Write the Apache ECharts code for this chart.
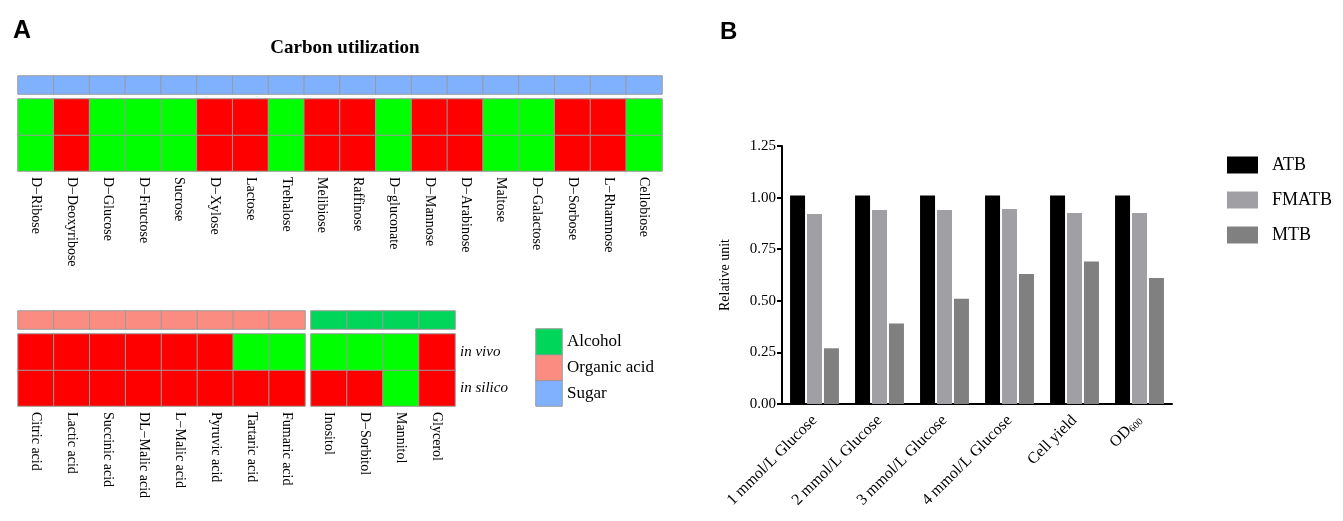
<!DOCTYPE html>
<html>
<head>
<meta charset="utf-8">
<title>Carbon utilization</title>
<script src="https://cdn.jsdelivr.net/npm/echarts@6/dist/echarts.min.js"></script>
<style>
    html, body { margin: 0; padding: 0; background: #fff; }
    #main { width: 1343px; height: 521px; }
</style>
</head>
<body>
<div id="main"></div>
<script>
// ******************* data *******************
// sugar (top heatmap)
var sugarNames = ['D\u2212Ribose', 'D\u2212Deoxyribose', 'D\u2212Glucose', 'D\u2212Fructose', 'Sucrose', 'D\u2212Xylose',
    'Lactose', 'Trehalose', 'Melibiose', 'Raffinose', 'D\u2212gluconate', 'D\u2212Mannose', 'D\u2212Arabinose',
    'Maltose', 'D\u2212Galactose', 'D\u2212Sorbose', 'L\u2212Rhamnose', 'Cellobiose'];
// 1 = used (green), 0 = not used (red)
var sugarVivo   = [1, 0, 1, 1, 1, 0, 0, 1, 0, 0, 1, 0, 0, 1, 1, 0, 0, 1];
var sugarSilico = [1, 0, 1, 1, 1, 0, 0, 1, 0, 0, 1, 0, 0, 1, 1, 0, 0, 1];

// organic acid
var acidNames = ['Citric acid', 'Lactic acid', 'Succinic acid', 'DL\u2212Malic acid', 'L\u2212Malic acid',
    'Pyruvic acid', 'Tartaric acid', 'Fumaric acid'];
var acidVivo   = [0, 0, 0, 0, 0, 0, 1, 1];
var acidSilico = [0, 0, 0, 0, 0, 0, 0, 0];

// alcohol
var alcoholNames = ['Inositol', 'D\u2212Sorbitol', 'Mannitol', 'Glycerol'];
var alcoholVivo   = [1, 1, 1, 0];
var alcoholSilico = [0, 0, 1, 0];

// heatmap rows (bottom to top) and class legend (bottom to top)
var rowNames = ['in silico', 'in vivo'];
var classNames = ['Sugar', 'Organic acid', 'Alcohol'];

// panel B
var glucoseCats = ['1 mmol/L Glucose', '2 mmol/L Glucose', '3 mmol/L Glucose', '4 mmol/L Glucose', 'Cell yield', 'OD600'];
var atbValues   = [1.01, 1.01, 1.01, 1.01, 1.01, 1.01];
var fmatbValues = [0.92, 0.94, 0.94, 0.945, 0.925, 0.925];
var mtbValues   = [0.27, 0.39, 0.51, 0.63, 0.69, 0.61];

// ******************* helpers *******************
var serif = 'Liberation Serif';
var cellBorder = { borderColor: '#9a9a9a', borderWidth: 1 };

// class code: 2 sugar, 3 organic acid, 4 alcohol
function stripData(names, code) {
    var out = [];
    for (var i = 0; i < names.length; i++) {
        out.push([i, 0, code]);
    }
    return out;
}
function heatData(vivo, silico) {
    var out = [];
    for (var i = 0; i < vivo.length; i++) {
        out.push([i, 0, silico[i]]);
        out.push([i, 1, vivo[i]]);
    }
    return out;
}
function hiddenCat(gridIndex, data) {
    return { type: 'category', gridIndex: gridIndex, data: data, show: false };
}
function labelXAxis(gridIndex, data) {
    return {
        type: 'category', gridIndex: gridIndex, data: data,
        axisLine: { show: false }, axisTick: { show: false },
        axisLabel: { rotate: -90, margin: 6, interval: 0, color: '#000', fontFamily: serif, fontSize: 14 }
    };
}

var chart = echarts.init(document.getElementById('main'));

var option = {
    backgroundColor: '#fff',
    animation: false,
    title: [
        { text: 'A', left: 8, top: 14, textStyle: { fontFamily: 'Liberation Sans', fontSize: 25, fontWeight: 'bold', color: '#000' } },
        { text: 'B', left: 715, top: 15, textStyle: { fontFamily: 'Liberation Sans', fontSize: 24, fontWeight: 'bold', color: '#000' } },
        { text: 'Carbon utilization', left: 340, top: 34, textAlign: 'center',
            textStyle: { fontFamily: serif, fontSize: 19, fontWeight: 'bold', color: '#000' } }
    ],
    visualMap: {
        type: 'piecewise', show: false, seriesIndex: [0, 1, 2, 3, 4, 5, 6],
        pieces: [
            { value: 0, color: '#ff0000' },
            { value: 1, color: '#00ff00' },
            { value: 2, color: '#80b1ff' },
            { value: 3, color: '#fb8c82' },
            { value: 4, color: '#00d65a' }
        ]
    },
    legend: {
        data: ['ATB', 'FMATB', 'MTB'],
        orient: 'vertical', left: 1227, top: 156, padding: 0,
        itemWidth: 31, itemHeight: 17, itemGap: 17, icon: 'rect',
        textStyle: { fontFamily: serif, fontSize: 18, color: '#000', padding: [0, 0, 0, 9] }
    },
    grid: [
        { left: 18, top: 76, width: 644, height: 18 },   // sugar strip
        { left: 18, top: 99, width: 644, height: 72 },   // sugar heat
        { left: 18, top: 311, width: 287, height: 18 },  // acid strip
        { left: 18, top: 334, width: 287, height: 72 },  // acid heat
        { left: 311, top: 311, width: 144, height: 18 }, // alcohol strip
        { left: 311, top: 334, width: 144, height: 72 }, // alcohol heat
        { left: 536, top: 329, width: 26, height: 77 },  // class legend
        { left: 782, top: 146, width: 390, height: 258 } // bar chart
    ],
    xAxis: [
        hiddenCat(0, sugarNames),
        labelXAxis(1, sugarNames),
        hiddenCat(2, acidNames),
        labelXAxis(3, acidNames),
        hiddenCat(4, alcoholNames),
        labelXAxis(5, alcoholNames),
        hiddenCat(6, ['class']),
        {
            type: 'category', gridIndex: 7, data: glucoseCats,
            axisLine: { lineStyle: { color: '#000', width: 2 } },
            axisTick: { alignWithLabel: true, length: 6, lineStyle: { color: '#000', width: 2 } },
            axisLabel: {
                rotate: 45, margin: 14, interval: 0, color: '#000', fontFamily: serif, fontSize: 16,
                formatter: function (v) { return v === 'OD600' ? 'OD{sub|600}' : v; },
                rich: { sub: { fontFamily: serif, fontSize: 10, verticalAlign: 'bottom', padding: [6, 0, 0, 0] } }
            }
        }
    ],
    yAxis: [
        hiddenCat(0, ['class']),
        hiddenCat(1, rowNames),
        hiddenCat(2, ['class']),
        hiddenCat(3, rowNames),
        hiddenCat(4, ['class']),
        {
            type: 'category', gridIndex: 5, data: rowNames, position: 'right',
            axisLine: { show: false }, axisTick: { show: false },
            axisLabel: { margin: 5, color: '#000', fontFamily: serif, fontSize: 15, fontStyle: 'italic' }
        },
        {
            type: 'category', gridIndex: 6, data: classNames, position: 'right',
            axisLine: { show: false }, axisTick: { show: false },
            axisLabel: { margin: 5, color: '#000', fontFamily: serif, fontSize: 17 }
        },
        {
            type: 'value', gridIndex: 7, min: 0, max: 1.25, interval: 0.25,
            name: 'Relative unit', nameLocation: 'middle', nameRotate: 90, nameGap: 50,
            nameTextStyle: { fontFamily: serif, fontSize: 14, color: '#000' },
            axisLine: { show: true, lineStyle: { color: '#000', width: 2 } },
            axisTick: { show: true, length: 5, lineStyle: { color: '#000', width: 2 } },
            splitLine: { show: false },
            axisLabel: {
                margin: 6, color: '#000', fontFamily: serif, fontSize: 15,
                formatter: function (v) { return v.toFixed(2); }
            }
        }
    ],
    series: [
        { type: 'heatmap', xAxisIndex: 0, yAxisIndex: 0, data: stripData(sugarNames, 2), itemStyle: cellBorder },
        { type: 'heatmap', xAxisIndex: 1, yAxisIndex: 1, data: heatData(sugarVivo, sugarSilico), itemStyle: cellBorder },
        { type: 'heatmap', xAxisIndex: 2, yAxisIndex: 2, data: stripData(acidNames, 3), itemStyle: cellBorder },
        { type: 'heatmap', xAxisIndex: 3, yAxisIndex: 3, data: heatData(acidVivo, acidSilico), itemStyle: cellBorder },
        { type: 'heatmap', xAxisIndex: 4, yAxisIndex: 4, data: stripData(alcoholNames, 4), itemStyle: cellBorder },
        { type: 'heatmap', xAxisIndex: 5, yAxisIndex: 5, data: heatData(alcoholVivo, alcoholSilico), itemStyle: cellBorder },
        // class legend, Sugar / Organic acid / Alcohol
        { type: 'heatmap', xAxisIndex: 6, yAxisIndex: 6, data: [[0, 0, 2], [0, 1, 3], [0, 2, 4]], itemStyle: cellBorder },
        // panel B
        { name: 'ATB', type: 'bar', xAxisIndex: 7, yAxisIndex: 7, data: atbValues, barWidth: 15, barGap: '13%',
            itemStyle: { color: '#000000' } },
        { name: 'FMATB', type: 'bar', xAxisIndex: 7, yAxisIndex: 7, data: fmatbValues, barWidth: 15, barGap: '13%',
            itemStyle: { color: '#a0a0a4' } },
        { name: 'MTB', type: 'bar', xAxisIndex: 7, yAxisIndex: 7, data: mtbValues, barWidth: 15, barGap: '13%',
            itemStyle: { color: '#808080' } }
    ]
};

chart.setOption(option);
</script>
</body>
</html>
